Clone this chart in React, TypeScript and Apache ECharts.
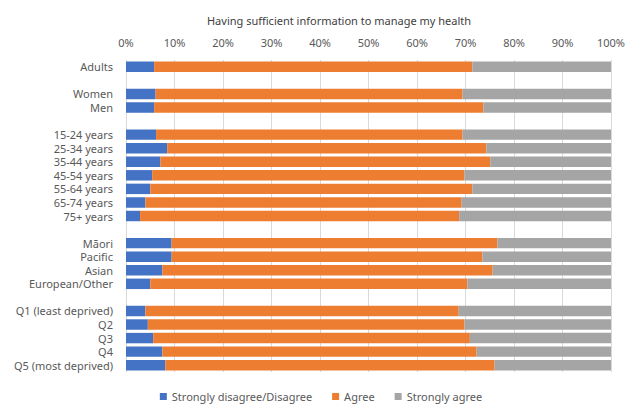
import React, { useEffect, useRef } from 'react';
import * as echarts from 'echarts';

const categories = [
  'Adults', ' ',
  'Women', 'Men', '  ',
  '15-24 years', '25-34 years', '35-44 years', '45-54 years', '55-64 years', '65-74 years', '75+ years', '   ',
  'Māori', 'Pacific', 'Asian', 'European/Other', '    ',
  'Q1 (least deprived)', 'Q2', 'Q3', 'Q4', 'Q5 (most deprived)',
];

// percentages; null = spacer row
const disagree = [5.8, null, 6.1, 5.8, null, 6.2, 8.5, 7.1, 5.4, 5.0, 4.0, 2.9, null, 9.4, 9.4, 7.5, 5.0, null, 4.0, 4.5, 5.6, 7.5, 8.1];
const agree = [65.6, null, 63.3, 67.9, null, 63.2, 65.8, 68.0, 64.4, 66.4, 65.2, 65.8, null, 67.2, 64.1, 68.1, 65.4, null, 64.6, 65.3, 65.3, 64.8, 67.9];
const stronglyAgree = [28.6, null, 30.6, 26.3, null, 30.6, 25.7, 24.9, 30.2, 28.6, 30.8, 31.3, null, 23.4, 26.5, 24.4, 29.6, null, 31.4, 30.2, 29.1, 27.7, 24.0];

const seriesNames = ['Strongly disagree/Disagree', 'Agree', 'Strongly agree'];
const colors = ['#4472C4', '#ED7D31', '#A5A5A5'];

const FONT = 'Noto Sans';

export default function App() {
  const chartRef = useRef<HTMLDivElement>(null);

  useEffect(() => {
    if (!chartRef.current) return;
    const chart = echarts.init(chartRef.current, undefined, { renderer: 'svg' });
    const values = [disagree, agree, stronglyAgree];

    chart.setOption({
      animation: false,
      title: {
        text: 'Having sufficient information to manage my health',
        left: 334,
        textAlign: 'center',
        top: 10,
        textStyle: { fontFamily: FONT, fontSize: 11, fontWeight: 'normal', color: '#404040' },
      },
      legend: {
        bottom: 12,
        left: 'center',
        itemWidth: 7,
        itemHeight: 7,
        itemGap: 20,
        icon: 'rect',
        textStyle: { fontFamily: FONT, fontSize: 11, color: '#595959' },
        data: seriesNames,
      },
      grid: { left: 126, right: 31, top: 60, bottom: 47 },
      xAxis: {
        type: 'value',
        position: 'top',
        min: 0,
        max: 100,
        interval: 10,
        axisLabel: { formatter: '{value}%', fontFamily: FONT, fontSize: 11, color: '#595959', margin: 12 },
        axisLine: { show: false },
        axisTick: { show: false },
        splitLine: { lineStyle: { color: '#D9D9D9' } },
      },
      yAxis: {
        type: 'category',
        inverse: true,
        data: categories,
        axisLine: { show: false },
        axisTick: { show: false },
        axisLabel: { fontFamily: FONT, fontSize: 11, color: '#595959', margin: 13, interval: 0 },
      },
      series: seriesNames.map((name, i) => ({
        name,
        type: 'bar',
        stack: 'total',
        barWidth: '77%',
        itemStyle: { color: colors[i] },
        data: values[i],
      })),
    });

    return () => chart.dispose();
  }, []);

  return (
    <div style={{ position: 'fixed', left: 0, top: 0, width: 642, height: 419, background: '#fff' }}>
      <div ref={chartRef} style={{ width: '100%', height: '100%' }} />
    </div>
  );
}
